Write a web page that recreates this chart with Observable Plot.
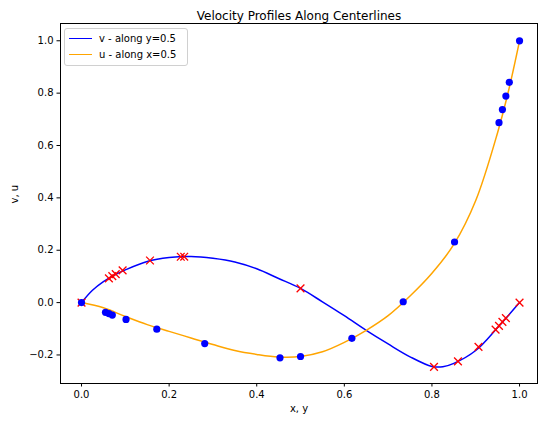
<!DOCTYPE html>
<html>
<head>
<meta charset="utf-8">
<script src="https://cdn.jsdelivr.net/npm/d3@7"></script>
<script src="https://cdn.jsdelivr.net/npm/@observablehq/plot@0.6"></script>
<style>
  html, body { margin: 0; padding: 0; background: white; }
  #wrap { position: relative; width: 538px; height: 421px; font-family: "DejaVu Sans", sans-serif; }
  #legend { position: absolute; left: 64px; top: 28px; width: 122px; height: 36px;
    border: 1px solid #d0d0d0; border-radius: 3px; background: rgba(255,255,255,0.8);
    font-size: 10px; color: #000; }
  .row { position: absolute; left: 4px; height: 14px; display: flex; align-items: center; }
  .sw { width: 23px; height: 0; border-top: 1.5px solid; margin-right: 7px; }
</style>
</head>
<body>
<div id="wrap">
  <div id="chart"></div>
  <div id="legend">
    <div class="row" style="top:2px"><div class="sw" style="border-color:blue"></div><span>v - along y=0.5</span></div>
    <div class="row" style="top:18px"><div class="sw" style="border-color:orange"></div><span>u - along x=0.5</span></div>
  </div>
</div>
<script>
// Simulation curve: v along horizontal centerline y=0.5
const vLineX = [0, 0.025, 0.05, 0.075, 0.1, 0.15, 0.2, 0.25, 0.3, 0.35, 0.4, 0.45, 0.5, 0.55, 0.6, 0.65, 0.7, 0.75, 0.8, 0.825, 0.85, 0.9, 0.95, 1.0];
const vLineV = [0, 0.047, 0.080, 0.105, 0.125, 0.157, 0.172, 0.176, 0.169, 0.155, 0.129, 0.092, 0.054, 0.003, -0.050, -0.106, -0.158, -0.207, -0.244, -0.245, -0.232, -0.183, -0.095, 0];
// Simulation curve: u along vertical centerline x=0.5
const uLineY = [0, 0.05, 0.1, 0.15, 0.2, 0.25, 0.3, 0.35, 0.4, 0.45, 0.5, 0.55, 0.6, 0.65, 0.7, 0.75, 0.8, 0.85, 0.9, 0.95, 0.975, 1.0];
const uLineU = [0, -0.020, -0.053, -0.084, -0.110, -0.135, -0.160, -0.183, -0.198, -0.208, -0.206, -0.188, -0.152, -0.106, -0.050, 0.025, 0.112, 0.222, 0.390, 0.650, 0.810, 1.0];
// Reference points: v (red x)
const vRefX = [1.0000, 0.9688, 0.9609, 0.9531, 0.9453, 0.9063, 0.8594, 0.8047, 0.5000, 0.2344, 0.2266, 0.1563, 0.0938, 0.0781, 0.0703, 0.0625, 0.0000];
const vRefV = [0.0, -0.05906, -0.07391, -0.08864, -0.10313, -0.16914, -0.22445, -0.24533, 0.05454, 0.17527, 0.17507, 0.16077, 0.12317, 0.10890, 0.10091, 0.09233, 0.0];
// Reference points: u (blue circles)
const uRefY = [1.0000, 0.9766, 0.9688, 0.9609, 0.9531, 0.8516, 0.7344, 0.6172, 0.5000, 0.4531, 0.2813, 0.1719, 0.1016, 0.0703, 0.0625, 0.0547, 0.0000];
const uRefU = [1.0, 0.84123, 0.78871, 0.73722, 0.68717, 0.23151, 0.00332, -0.13641, -0.20581, -0.21090, -0.15662, -0.10150, -0.06434, -0.04775, -0.04192, -0.03717, 0.0];
const xTicks = [0, 0.2, 0.4, 0.6, 0.8, 1.0];
const yTicks = [-0.2, 0, 0.2, 0.4, 0.6, 0.8, 1.0];

const vLine = vLineX.map((x, i) => ({x, y: vLineV[i]}));
const uLine = uLineY.map((x, i) => ({x, y: uLineU[i]}));
const vRef = vRefX.map((x, i) => ({x, y: vRefV[i]}));
const uRef = uRefY.map((x, i) => ({x, y: uRefU[i]}));

const chart = Plot.plot({
  width: 538, height: 421,
  marginLeft: 60, marginRight: 1, marginTop: 23, marginBottom: 38,
  style: {fontFamily: "DejaVu Sans", fontSize: "10px", color: "black", background: "white"},
  x: {domain: [-0.048, 1.041], label: null},
  y: {domain: [-0.309, 1.066], label: null},
  marks: [
    Plot.axisX({ticks: xTicks, tickFormat: d3.format(".1f"), tickSize: 3.5, tickPadding: 3.5, fontSize: 10, label: null}),
    Plot.axisY({ticks: yTicks, tickFormat: d3.format(".1f"), tickSize: 3.5, tickPadding: 3.5, fontSize: 10, label: null}),
    Plot.line(vLine, {x: "x", y: "y", stroke: "blue", strokeWidth: 1.5, curve: "catmull-rom"}),
    Plot.line(uLine, {x: "x", y: "y", stroke: "orange", strokeWidth: 1.5, curve: "catmull-rom"}),
    Plot.dot(vRef, {x: "x", y: "y", symbol: "times", stroke: "red", strokeWidth: 1.3, r: 3.6}),
    Plot.dot(uRef, {x: "x", y: "y", fill: "blue", r: 3.6}),
    Plot.frame({stroke: "black", strokeWidth: 1}),
    Plot.text(["Velocity Profiles Along Centerlines"], {frameAnchor: "top", dy: -12, fontSize: 12, fill: "black"}),
    Plot.text(["x, y"], {frameAnchor: "bottom", dy: 28, fontSize: 10, fill: "black"}),
    Plot.text(["v, u"], {frameAnchor: "left", dx: -46, rotate: -90, fontSize: 10, fill: "black"})
  ]
});
document.getElementById("chart").appendChild(chart);
</script>
</body>
</html>
